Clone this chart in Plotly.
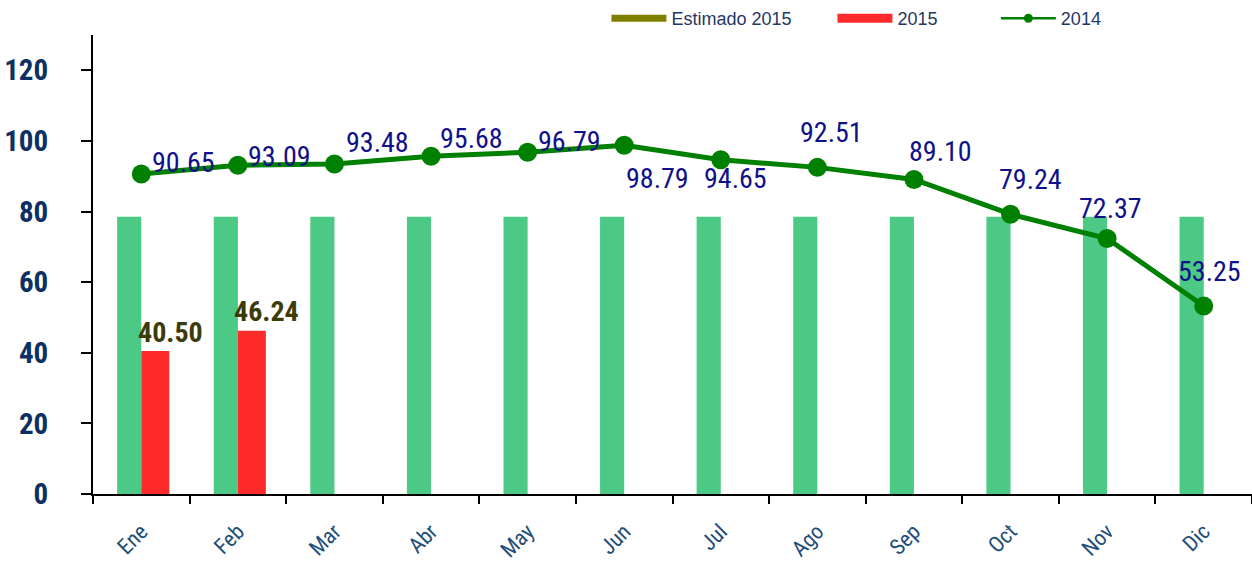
import plotly.graph_objects as go

# ---- data ----
months = ["Ene", "Feb", "Mar", "Abr", "May", "Jun", "Jul", "Ago", "Sep", "Oct", "Nov", "Dic"]
estimado_2015 = [78.5] * 12
real_2015 = [40.50, 46.24]
serie_2014 = [90.65, 93.09, 93.48, 95.68, 96.79, 98.79, 94.65, 92.51, 89.10, 79.24, 72.37, 53.25]
y_ticks = [0, 20, 40, 60, 80, 100, 120]

# ---- style ----
NARROW = "Noto Sans ExtraCondensed, Noto Sans Condensed, Roboto Condensed, DejaVu Sans Condensed, sans-serif"
NAVY = "#0D2F63"
LBL = "#10108A"
# label offsets (pixels) for 2014 labels
lbl_dx = [42, 42, 43, 40, 42, 33, 15, 14, 27, 20, 3, 6]
lbl_dy = [11, 9, 21, 18, 11, -33, -19, 35, 28, 35, 30, 34]

fig = go.Figure()

fig.add_trace(go.Bar(
    x=months, y=estimado_2015, name="Estimado 2015", showlegend=False,
    marker=dict(color="#4CC985", line=dict(width=0)),
    width=0.25, offset=-0.25,
))
fig.add_trace(go.Bar(
    x=months[:len(real_2015)], y=real_2015, name="2015", showlegend=False,
    marker=dict(color="#FF2A2A", line=dict(width=0)),
    width=0.29, offset=0,
))
fig.add_trace(go.Scatter(
    x=months, y=serie_2014, name="2014", mode="lines+markers",
    line=dict(color="#008000", width=5),
    marker=dict(color="#008000", size=19),
    showlegend=False,
))

# legend-only entries
fig.add_trace(go.Scatter(x=[None], y=[None], name="Estimado 2015", mode="lines",
                         line=dict(color="#808000", width=7), legend="legend"))
fig.add_trace(go.Scatter(x=[None], y=[None], name="2015", mode="lines",
                         line=dict(color="#FF2A2A", width=9), legend="legend2"))
fig.add_trace(go.Scatter(x=[None], y=[None], name="2014", mode="lines+markers",
                         line=dict(color="#008000", width=2.5),
                         marker=dict(color="#008000", size=9), legend="legend3"))

for m, v, dx, dy in zip(months, serie_2014, lbl_dx, lbl_dy):
    fig.add_annotation(x=m, y=v, text=f"{v:.2f}", showarrow=False,
                       xshift=dx, yshift=dy,
                       font=dict(family=NARROW, size=28, color=LBL))

for m, v in zip(months, real_2015):
    fig.add_annotation(x=m, y=v, text=f"<b>{v:.2f}</b>", showarrow=False,
                       xshift=29, yshift=19,
                       font=dict(family=NARROW, size=28, color="#3C3C0A"))

leg_font = dict(family="Liberation Sans, Arial, sans-serif", size=18, color="#1F3864")
leg_common = dict(orientation="h", xanchor="left", y=1.037, yanchor="middle",
                  font=leg_font, itemwidth=55, bgcolor="rgba(0,0,0,0)")

fig.update_layout(
    width=1252, height=566,
    margin=dict(l=93, r=0, t=35, b=72),
    paper_bgcolor="white", plot_bgcolor="white",
    barmode="overlay",
    showlegend=True,
    legend=dict(x=0.443, **leg_common),
    legend2=dict(x=0.638, **leg_common),
    legend3=dict(x=0.779, **leg_common),
    xaxis=dict(
        type="category", categoryorder="array", categoryarray=months,
        automargin=False,
        showline=True, linecolor="black", linewidth=2,
        ticks="outside", tickson="boundaries", ticklen=8, tickwidth=2, tickcolor="black",
        tickangle=-45, ticklabelstandoff=14,
        tickfont=dict(family=NARROW, size=22, color="#1F4E79"),
        showgrid=False, zeroline=False, range=[-0.5, 11.5],
    ),
    yaxis=dict(
        range=[0, 130], tickvals=y_ticks, automargin=False,
        showline=True, linecolor="black", linewidth=2,
        ticks="outside", ticklen=10, tickwidth=2, tickcolor="black",
        ticklabelstandoff=27,
        tickfont=dict(family=NARROW, size=29, color=NAVY, weight="bold"),
        showgrid=False, zeroline=False,
    ),
)

fig.write_html("out.html", config={"displayModeBar": False},
               post_script="document.body.style.margin='0';document.body.style.overflow='hidden';")
